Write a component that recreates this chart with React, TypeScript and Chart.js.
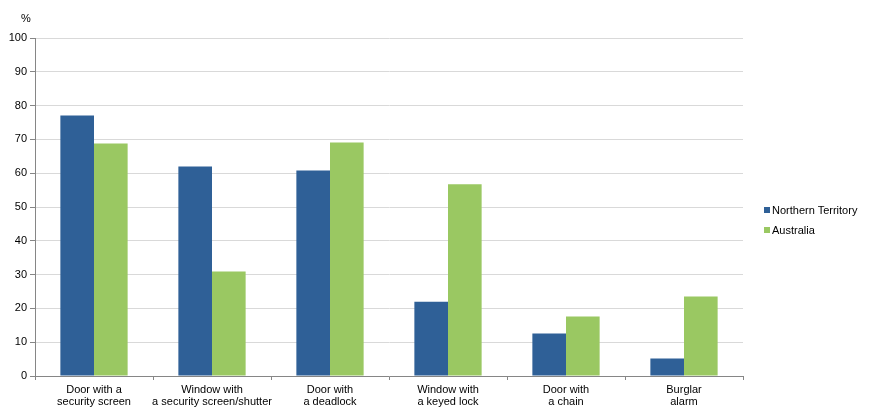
import { useEffect, useRef } from 'react'
import { Chart, registerables, type ChartOptions } from 'chart.js'

Chart.register(...registerables)

const categories: string[][] = [
  ['Door with a', 'security screen'],
  ['Window with', 'a security screen/shutter'],
  ['Door with', 'a deadlock'],
  ['Window with', 'a keyed lock'],
  ['Door with', 'a chain'],
  ['Burglar', 'alarm'],
]
const northernTerritory = [77.1, 62.0, 60.8, 22.0, 12.6, 5.2]
const australia = [68.8, 30.9, 69.1, 56.7, 17.6, 23.5]
const seriesLabels = ['Northern Territory', 'Australia']
const seriesColors = ['#2F6097', '#9AC862']

const FONT = "'Liberation Sans', Arial, sans-serif"

const CHART_OPTIONS: ChartOptions<'bar'> = {
  responsive: true,
  maintainAspectRatio: false,
  animation: false,
  layout: { padding: { top: 38, right: 126, bottom: 0, left: 0 } },
  plugins: { legend: { display: false }, tooltip: { enabled: false } },
  datasets: { bar: { categoryPercentage: 0.57, barPercentage: 1 } },
  scales: {
    x: {
      grid: { offset: true, drawOnChartArea: false, tickLength: 4, color: '#868686' },
      border: { color: '#868686' },
      ticks: { color: '#000', padding: 4, font: { family: FONT, size: 11, lineHeight: 1.1 }, maxRotation: 0, autoSkip: false },
      afterFit: (s) => {
        s.height = 40
      },
    },
    y: {
      min: 0,
      max: 100,
      grid: { color: '#D9D9D9', tickLength: 5, tickColor: '#868686' },
      border: { color: '#868686' },
      ticks: { stepSize: 10, color: '#000', padding: 3, font: { family: FONT, size: 11 } },
      afterFit: (s) => {
        s.width = 35
      },
    },
  },
}

export default function App() {
  const canvasRef = useRef<HTMLCanvasElement>(null)

  useEffect(() => {
    const canvas = canvasRef.current
    if (!canvas) return
    document.body.style.margin = '0'
    Chart.getChart(canvas)?.destroy()
    const chart = new Chart(canvas, {
      type: 'bar',
      data: {
        labels: categories,
        datasets: [
          { label: seriesLabels[0], data: northernTerritory, backgroundColor: seriesColors[0], borderWidth: 0 },
          { label: seriesLabels[1], data: australia, backgroundColor: seriesColors[1], borderWidth: 0 },
        ],
      },
      options: CHART_OPTIONS,
    })
    return () => chart.destroy()
  }, [])

  return (
    <div style={{ position: 'absolute', left: 0, top: 0, width: 869, height: 416, background: '#fff', fontFamily: FONT }}>
      <canvas ref={canvasRef} />
      <span style={{ position: 'absolute', left: 21, top: 12, fontSize: 11, color: '#000' }}>%</span>
      <div style={{ position: 'absolute', left: 764, top: 200, fontSize: 11, color: '#000', lineHeight: '20px' }}>
        {seriesLabels.map((l, i) => (
          <div key={l} style={{ display: 'flex', alignItems: 'center', whiteSpace: 'nowrap' }}>
            <span style={{ display: 'inline-block', width: 6, height: 6, background: seriesColors[i], marginRight: 2 }} />
            {l}
          </div>
        ))}
      </div>
    </div>
  )
}
